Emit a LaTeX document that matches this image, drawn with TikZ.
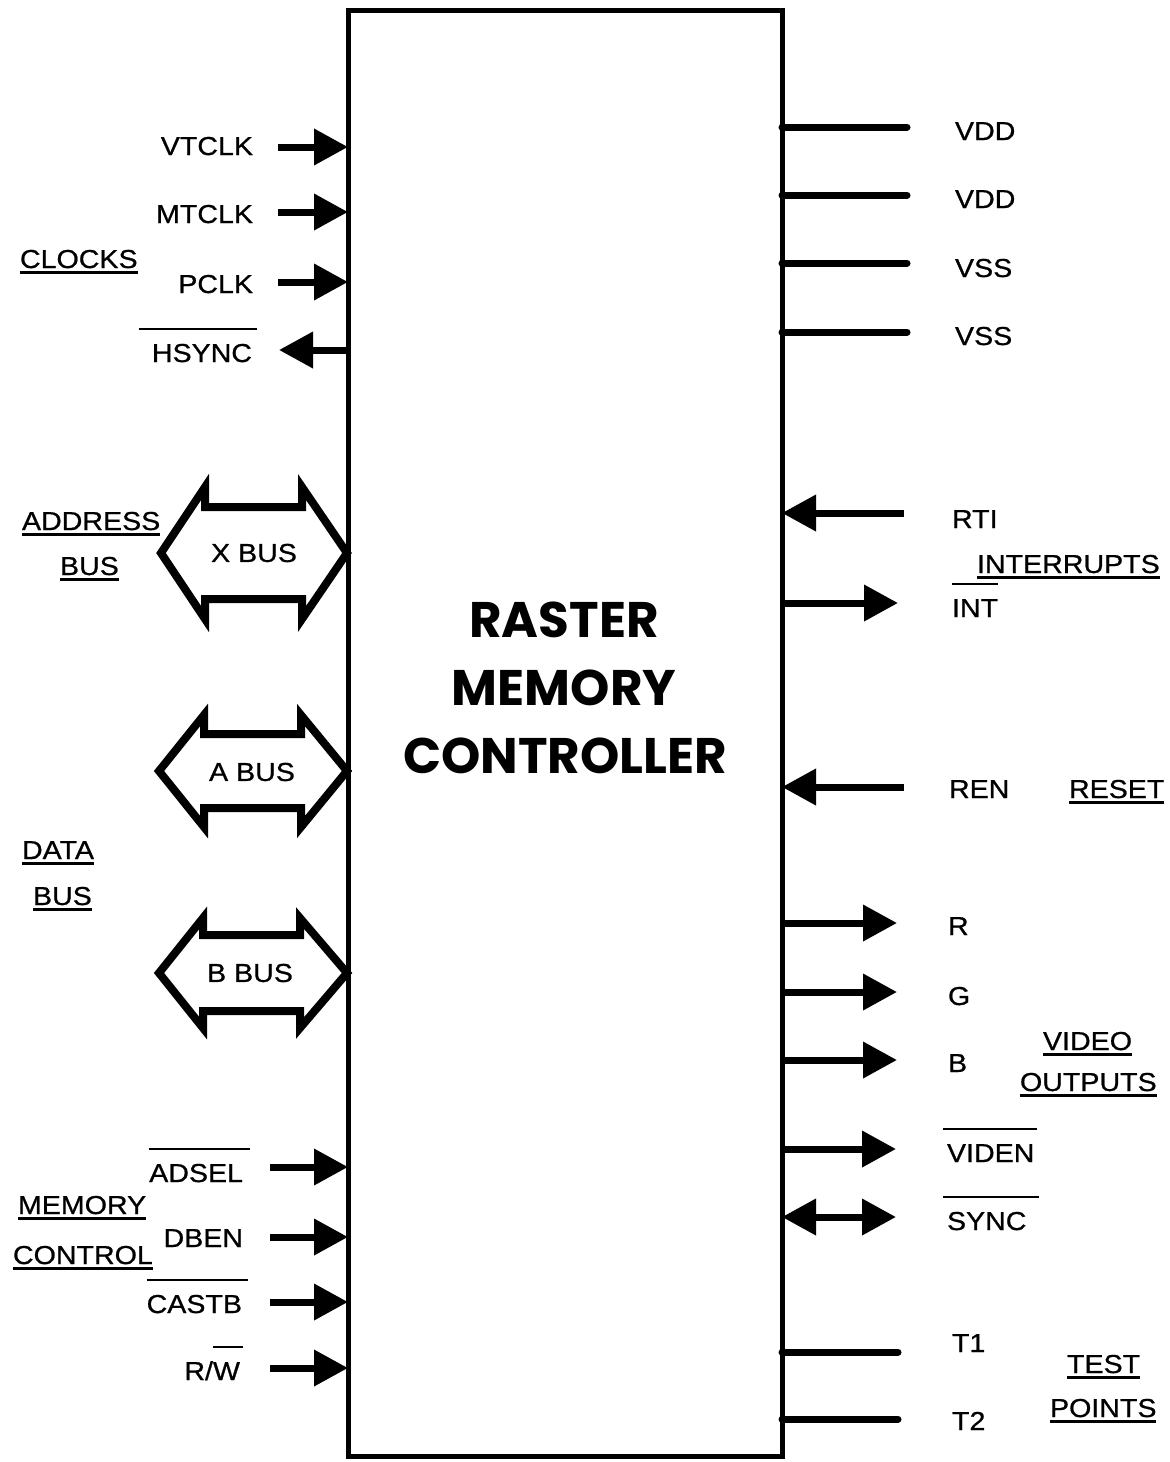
\documentclass[tikz,border=0pt]{standalone}
\usepackage{fontspec}
\setmainfont{Liberation Sans}[FakeStretch=1.1,FakeBold=0.8]
\newfontfamily\titlefont{Poppins}
\usetikzlibrary{arrows.meta}
\newlength\olw
% overline: #1 left extension, #2 right extension, #3 text
\newcommand\olbar[3]{\settowidth\olw{#3}\addtolength\olw{#1}\addtolength\olw{#2}\rlap{\hspace*{-#1}\raisebox{32pt}{\rule{\olw}{2.5pt}}}#3}
\newcommand\ulbar[1]{\settowidth\olw{#1}\rlap{\raisebox{-5.5pt}{\rule{\olw}{2.5pt}}}#1}
\begin{document}
\begin{tikzpicture}[x=1pt,y=-1pt,
  lbl/.style={inner sep=0pt, outer sep=0pt, font=\fontsize{26}{30}\selectfont},
  lblR/.style={lbl, anchor=base east},
  lblL/.style={lbl, anchor=base west},
  ttl/.style={inner sep=0pt, anchor=base, font=\titlefont\bfseries\fontsize{50}{60}\selectfont},
  pinin/.style={line width=7pt, -{Triangle[length=34pt,width=35pt]}},
  pinbi/.style={line width=7pt, {Triangle[length=34pt,width=35pt]}-{Triangle[length=34pt,width=35pt]}},
  pinline/.style={line width=7pt, line cap=round},
  bus/.style={line width=8pt, line join=miter}]
\useasboundingbox (0,0) rectangle (1170,1462);

% main block
\node[draw, line width=5pt, inner sep=0pt, outer sep=0pt, minimum width=434pt,
      minimum height=1446pt, anchor=north west] (rmc) at (348,10) {};
\node[ttl] (t1) at (564,637) {RASTER};
\node[ttl] (t2) at (564,705) {MEMORY};
\node[ttl] (t3) at (565,773) {CONTROLLER};

% ---------- left: clocks ----------
\node[lblR] (vtclk) at (253,155) {VTCLK};
\node[lblR] (mtclk) at (253,223) {MTCLK};
\node[lblR] (pclk) at (253,293) {PCLK};
\node[lblR] (hsync) at (252,362) {\olbar{13pt}{5pt}{HSYNC}};
\node[lblL] (clocks) at (20,268) {\ulbar{CLOCKS}};
\coordinate (pvt) at (278,147);
\coordinate (pmt) at (278,212);
\coordinate (ppc) at (278,282);
\coordinate (phs) at (279,350);
\draw[pinin] (pvt) -- (pvt -| rmc.west);
\draw[pinin] (pmt) -- (pmt -| rmc.west);
\draw[pinin] (ppc) -- (ppc -| rmc.west);
\draw[pinin] (phs -| rmc.west) -- (phs);

% ---------- left: buses ----------
\node[lblL] (addr) at (22,530) {\ulbar{ADDRESS}};
\node[lblL] (addrbus) at (60,575) {\ulbar{BUS}};
\draw[bus] (161,553) -- (205,487) -- (205,507) -- (302,507) -- (302,487) -- (347,553)
  -- (302,619) -- (302,599) -- (205,599) -- (205,619) -- cycle;
\node[lbl] (xbus) at (254,553) {X BUS};
\draw[bus] (159,771) -- (204,715) -- (204,734) -- (301,734) -- (301,715) -- (347,771)
  -- (301,827) -- (301,808) -- (204,808) -- (204,827) -- cycle;
\node[lbl] (abus) at (252,772) {A BUS};
\draw[bus] (159,973) -- (203,918) -- (203,935) -- (300,935) -- (300,918) -- (347,973)
  -- (300,1028) -- (300,1011) -- (203,1011) -- (203,1028) -- cycle;
\node[lbl] (bbus) at (250,973) {B BUS};
\node[lblL] (data) at (22,859) {\ulbar{DATA}};
\node[lblL] (databus) at (33,905) {\ulbar{BUS}};

% ---------- left: memory control ----------
\node[lblR] (adsel) at (243,1182) {\olbar{0pt}{7pt}{ADSEL}};
\node[lblR] (dben) at (243,1247) {DBEN};
\node[lblR] (castb) at (242,1313) {\olbar{0pt}{6pt}{CASTB}};
\node[lblR] (rw) at (240,1380) {R/\olbar{0pt}{3pt}{W}};
\node[lblL] (memory) at (18,1214) {\ulbar{MEMORY}};
\node[lblL] (control) at (13,1264) {\ulbar{CONTROL}};
\coordinate (pad) at (270,1167);
\coordinate (pdb) at (270,1237);
\coordinate (pca) at (270,1302);
\coordinate (prw) at (270,1368);
\draw[pinin] (pad) -- (pad -| rmc.west);
\draw[pinin] (pdb) -- (pdb -| rmc.west);
\draw[pinin] (pca) -- (pca -| rmc.west);
\draw[pinin] (prw) -- (prw -| rmc.west);

% ---------- right: power ----------
\coordinate (pv1) at (907,127);
\coordinate (pv2) at (907,195);
\coordinate (ps1) at (907,263);
\coordinate (ps2) at (907,332);
\draw[pinline] (pv1 -| rmc.east) -- (pv1);
\draw[pinline] (pv2 -| rmc.east) -- (pv2);
\draw[pinline] (ps1 -| rmc.east) -- (ps1);
\draw[pinline] (ps2 -| rmc.east) -- (ps2);
\node[lblL] (vdd1) at (955,140) {VDD};
\node[lblL] (vdd2) at (955,208) {VDD};
\node[lblL] (vss1) at (955,277) {VSS};
\node[lblL] (vss2) at (955,345) {VSS};

% ---------- right: interrupts / reset ----------
\coordinate (prti) at (904,513);
\coordinate (pint) at (898,603);
\coordinate (pren) at (904,787);
\draw[pinin] (prti) -- (prti -| rmc.east);
\draw[pinin] (pint -| rmc.east) -- (pint);
\draw[pinin] (pren) -- (pren -| rmc.east);
\node[lblL] (rti) at (952,528) {RTI};
\node[lblL] (interrupts) at (977,573) {\ulbar{INTERRUPTS}};
\node[lblL] (int) at (952,617) {\olbar{0pt}{0pt}{INT}};
\node[lblL] (ren) at (949,798) {REN};
\node[lblL] (reset) at (1069,798) {\ulbar{RESET}};

% ---------- right: video ----------
\coordinate (pr) at (897,923);
\coordinate (pg) at (897,992);
\coordinate (pb) at (897,1060);
\coordinate (pve) at (896,1149);
\coordinate (psy) at (896,1217);
\draw[pinin] (pr -| rmc.east) -- (pr);
\draw[pinin] (pg -| rmc.east) -- (pg);
\draw[pinin] (pb -| rmc.east) -- (pb);
\draw[pinin] (pve -| rmc.east) -- (pve);
\draw[pinbi] (psy -| rmc.east) -- (psy);
\node[lblL] (r) at (948,935) {R};
\node[lblL] (g) at (948,1005) {G};
\node[lblL] (b) at (948,1072) {B};
\node[lblL] (video) at (1043,1050) {\ulbar{VIDEO}};
\node[lblL] (outputs) at (1020,1091) {\ulbar{OUTPUTS}};
\node[lblL] (viden) at (947,1162) {\olbar{4pt}{3pt}{VIDEN}};
\node[lblL] (sync) at (947,1230) {\olbar{4pt}{13pt}{SYNC}};

% ---------- right: test points ----------
\coordinate (pt1) at (898,1352);
\coordinate (pt2) at (898,1419);
\draw[pinline] (pt1 -| rmc.east) -- (pt1);
\draw[pinline] (pt2 -| rmc.east) -- (pt2);
\node[lblL] (tone) at (952,1352) {T1};
\node[lblL] (ttwo) at (952,1430) {T2};
\node[lblL] (test) at (1067,1373) {\ulbar{TEST}};
\node[lblL] (points) at (1050,1417) {\ulbar{POINTS}};
\end{tikzpicture}
\end{document}
